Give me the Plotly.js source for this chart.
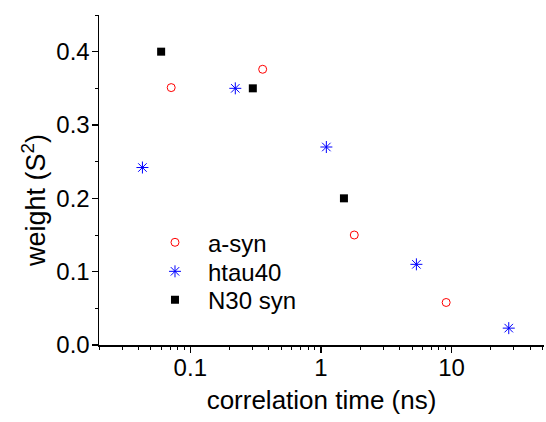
<!DOCTYPE html>
<html>
<head>
<meta charset="utf-8">
<script src="https://cdn.plot.ly/plotly-3.0.1.min.js"></script>
<style>html,body{margin:0;padding:0;background:#fff;}#chart{width:546px;height:422px;}</style>
</head>
<body>
<div id="chart"></div>
<script>
// Data
const asynX = [0.0714, 0.358, 1.80, 9.09];
const asynY = [0.351, 0.376, 0.150, 0.058];
const htauX = [0.043, 0.221, 1.10, 5.38, 27.4];
const htauY = [0.242, 0.350, 0.270, 0.110, 0.023];
const n30X = [0.0598, 0.301, 1.50];
const n30Y = [0.400, 0.350, 0.200];
const seriesNames = ['a-syn', 'htau40', 'N30 syn'];
const xTickVals = [0.1, 1, 10];
const xTickText = ['0.1', '1', '10'];
const xMinorVals = [0.02,0.03,0.04,0.05,0.06,0.07,0.08,0.09,0.2,0.3,0.4,0.5,0.6,0.7,0.8,0.9,2,3,4,5,6,7,8,9,20,30,40,50];
const yTickVals = [0, 0.1, 0.2, 0.3, 0.4];
const xTitle = 'correlation time (ns)';
const yTitle = 'weight (S<sup>2</sup>)';

const FONT = 'Liberation Sans, Arial, sans-serif';

const traces = [
  {x: asynX, y: asynY, name: seriesNames[0], type: 'scatter', mode: 'markers', legend: 'legend',
   marker: {symbol: 'circle-open', size: 8, color: '#ff0000', line: {width: 1, color: '#ff0000'}}},
  {x: htauX, y: htauY, name: seriesNames[1], type: 'scatter', mode: 'markers', legend: 'legend2',
   marker: {symbol: 'asterisk-open', size: 10, color: '#0000ff', line: {width: 1, color: '#0000ff'}}},
  {x: n30X, y: n30Y, name: seriesNames[2], type: 'scatter', mode: 'markers', legend: 'legend3',
   marker: {symbol: 'square', size: 8, color: '#000000'}}
];

function leg(yc) {
  return {x: 0.0966, y: yc, xanchor: 'left', yanchor: 'middle', bgcolor: 'rgba(0,0,0,0)',
          itemwidth: 56, font: {family: FONT, size: 24, color: '#000'}};
}

const layout = {
  width: 546, height: 422,
  margin: {l: 99, r: 2, t: 15, b: 77, pad: 0},
  paper_bgcolor: '#fff', plot_bgcolor: '#fff',
  font: {family: FONT, size: 24, color: '#000'},
  showlegend: true,
  legend: leg(0.310),
  legend2: leg(0.222),
  legend3: leg(0.136),
  xaxis: {
    type: 'log', range: [Math.log10(0.02), Math.log10(51)],
    showline: true, linecolor: '#000', linewidth: 1.5, mirror: false,
    showgrid: false, zeroline: false,
    tickmode: 'array', tickvals: xTickVals, ticktext: xTickText,
    ticks: 'outside', ticklen: 6, tickwidth: 1.2, tickcolor: '#000',
    ticklabelstandoff: -5,
    tickfont: {family: FONT, size: 24, color: '#000'},
    minor: {tickmode: 'array', tickvals: xMinorVals, ticks: 'outside', ticklen: 3, tickwidth: 1, tickcolor: '#000', showgrid: false},
    title: {text: xTitle, font: {family: FONT, size: 26, color: '#000'}, standoff: 10}
  },
  yaxis: {
    range: [0, 0.45],
    showline: true, linecolor: '#000', linewidth: 1.5, mirror: false,
    showgrid: false, zeroline: false,
    tickmode: 'array', tickvals: yTickVals, tickformat: '.1f',
    ticks: 'outside', ticklen: 6, tickwidth: 1.2, tickcolor: '#000',
    ticklabelstandoff: -3,
    tickfont: {family: FONT, size: 24, color: '#000'},
    minor: {dtick: 0.05, ticks: 'outside', ticklen: 3, tickwidth: 1, tickcolor: '#000', showgrid: false}
  },
  annotations: [
    {text: yTitle, xref: 'paper', yref: 'paper', x: (34 - 99) / 445, y: (345 - 201) / 330,
     xanchor: 'center', yanchor: 'middle', textangle: -90, showarrow: false,
     font: {family: FONT, size: 27, color: '#000'}}
  ]
};

Plotly.newPlot('chart', traces, layout, {displayModeBar: false, staticPlot: true});
</script>
</body>
</html>
